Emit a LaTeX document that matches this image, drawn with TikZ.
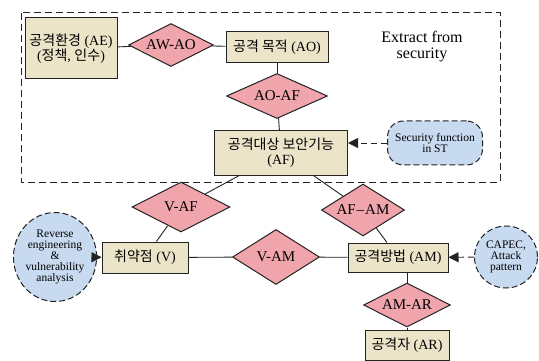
\documentclass[tikz,border=0pt]{standalone}
\usepackage{fontspec}
\setmainfont{Liberation Serif}
\newfontfamily\kr{Noto Sans CJK KR}
\usetikzlibrary{
    arrows.meta,
    shapes.geometric
}
\newcommand{\ko}[1]{{\kr #1}}

\definecolor{boxfill}{RGB}{236,228,200}
\definecolor{relfill}{RGB}{240,164,172}
\definecolor{srcfill}{RGB}{200,218,240}
\definecolor{edge}{RGB}{35,35,35}

\begin{document}
\begin{tikzpicture}[x=1pt, y=-1pt,
    entity/.style={draw=edge, line width=1pt, fill=boxfill, align=center,
        inner sep=0pt, font=\fontsize{14}{15}\selectfont},
    relation/.style={draw=edge, line width=1pt, fill=relfill, diamond,
        aspect=2, inner sep=0pt, font=\fontsize{15}{15}\selectfont},
    source/.style={draw=edge, line width=1pt, dash pattern=on 6pt off 3pt,
        fill=srcfill, align=center, inner sep=0pt,
        font=\fontsize{11.5}{11}\selectfont},
    link/.style={draw=edge, line width=0.9pt},
    tip/.style={-{Triangle[length=10pt, width=10pt]}}
]
\useasboundingbox (0,0) rectangle (539,361);

% Extract region
\draw[edge, line width=1pt, dash pattern=on 7pt off 4pt] (21,13) rectangle (500,182);
\node[align=center, font=\fontsize{16}{16}\selectfont] (extract) at (422,47) {Extract from\\security};

% Upper entities
\node[entity, minimum width=92pt, minimum height=61pt] (ae) at (71,48.5) {\ko{공격환경} (AE)\\(\ko{정책}, \ko{인수})};
\node[relation, minimum width=85pt, minimum height=43pt] (awao) at (171,45) {AW-AO};
\node[entity, minimum width=102pt, minimum height=31pt] (ao) at (277,47.5) {\ko{공격 목적} (AO)};
\node[relation, minimum width=101pt, minimum height=45pt] (aoaf) at (277,96) {AO-AF};
\node[entity, minimum width=133pt, minimum height=44pt] (af) at (281,153) {\ko{공격대상 보안기능}\\(AF)};

% Security function source
\node[source, rounded corners=16pt, minimum width=95pt, minimum height=44pt] (st) at (435,143) {Security function\\in ST};

% Lower relations
\node[relation, minimum width=98pt, minimum height=50pt] (vaf) at (181,207) {V-AF};
\node[relation, minimum width=83pt, minimum height=52pt] (afam) at (363,210) {AF{\kern1pt}--{\kern1pt}AM};
\node[relation, minimum width=87pt, minimum height=55pt] (vam) at (276,257) {V-AM};
\node[relation, minimum width=87pt, minimum height=44pt] (amar) at (407,305) {AM-AR};

% Lower entities
\node[entity, minimum width=86pt, minimum height=31pt] (v) at (145,257.5) {\ko{취약점} (V)};
\node[entity, minimum width=100pt, minimum height=29pt] (am) at (398,257.5) {\ko{공격방법} (AM)};
\node[entity, minimum width=84pt, minimum height=30pt] (ar) at (407,345) {\ko{공격자} (AR)};

% Other sources
\node[source, ellipse, minimum width=72pt, minimum height=89pt] (rev) at (55,257) {Reverse\\engineering\\\&\\vulnerability\\analysis};
\node[source, ellipse, minimum width=63pt, minimum height=62pt] (capec) at (506,257) {CAPEC,\\Attack\\pattern};

% Connectors
\draw[link] (ae) -- (awao);
\draw[link] (awao) -- (ao);
\draw[link] (ao) -- (aoaf);
\draw[link] (aoaf) -- (af);
\draw[link] (af) -- (vaf);
\draw[link] (vaf) -- (v);
\draw[link] (af) -- (afam);
\draw[link] (afam) -- (am);
\draw[link] (v) -- (vam);
\draw[link] (vam) -- (am);
\draw[link] (amar) -- (amar |- am.south);
\draw[link] (amar) -- (ar);

% Source arrows
\draw[link, dash pattern=on 6pt off 4pt, tip] (st) -- (st -| af.east);
\draw[link, dash pattern=on 6pt off 4pt, tip] (capec) -- (am);
\draw[link, tip] (rev) -- (v);

\end{tikzpicture}
\end{document}
